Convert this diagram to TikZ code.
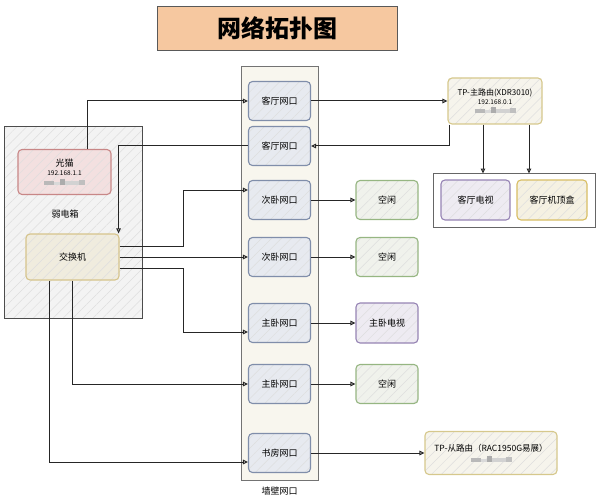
\documentclass[tikz,border=0pt]{standalone}
\usepackage{fontspec}
\setmainfont{Noto Sans CJK SC}
\usetikzlibrary{arrows.meta, positioning, calc, patterns.meta}
\definecolor{titlePeach}{RGB}{246,200,160}
\definecolor{wallCream}{RGB}{248,246,238}
\definecolor{portFill}{RGB}{231,234,240}
\definecolor{portLine}{RGB}{128,142,170}
\definecolor{idleFill}{RGB}{240,242,236}
\definecolor{idleLine}{RGB}{150,182,130}
\definecolor{tvFill}{RGB}{238,235,242}
\definecolor{tvLine}{RGB}{150,132,180}
\definecolor{stbFill}{RGB}{245,241,226}
\definecolor{stbLine}{RGB}{216,190,100}
\definecolor{routerFill}{RGB}{246,244,236}
\definecolor{routerLine}{RGB}{214,200,140}
\definecolor{modemFill}{RGB}{243,224,224}
\definecolor{modemLine}{RGB}{200,135,135}
\definecolor{switchFill}{RGB}{240,236,222}
\definecolor{switchLine}{RGB}{214,196,140}
\definecolor{boxFill}{RGB}{243,243,243}

\newcommand{\masked}{{\color{gray!55}\rule{10pt}{4pt}}{\color{gray!30}\rule{6pt}{3pt}}{\color{gray!65}\rule{5pt}{6pt}}{\color{gray!35}\rule{14pt}{4pt}}{\color{gray!50}\rule{6pt}{5pt}}}

\tikzset{
  hatch/.style={preaction={fill=#1}, pattern={Lines[angle=45, distance=7pt, line width=0.5pt]}, pattern color=black!13},
  card/.style={rounded corners=4pt, line width=1.1pt, align=center, font=\fontsize{9}{11}\selectfont},
  port/.style={card, hatch=portFill, draw=portLine, minimum width=62pt, minimum height=39pt},
  idle/.style={card, hatch=idleFill, draw=idleLine, minimum width=62pt, minimum height=39pt},
  tvbox/.style={card, hatch=tvFill, draw=tvLine, minimum height=40pt},
  link/.style={draw=black!85, line width=1pt, -{Triangle[open, length=5pt, width=4.5pt]}}
}

\begin{document}
\begin{tikzpicture}[x=1pt, y=-1pt]
  \useasboundingbox (0,0) rectangle (597,500);

  \node[fill=titlePeach, draw=black!65, line width=0.8pt, minimum width=240pt, minimum height=44pt, font=\fontsize{24}{28}\selectfont\bfseries] (title) at (277,28) {网络拓扑图};

  \node[fill=wallCream, draw=black!55, line width=0.8pt, minimum width=77pt, minimum height=414pt] (wall) at (279.5,273) {};
  \node[below=3pt of wall, font=\fontsize{9}{11}\selectfont] (walllbl) {墙壁网口};

  \node[hatch=boxFill, draw=black!70, line width=1pt, minimum width=138pt, minimum height=192pt] (box) at (73,222.5) {};
  \node[font=\fontsize{9}{11}\selectfont] (boxlbl) at (65,214) {弱电箱};

  \node[card, hatch=modemFill, draw=modemLine, minimum width=93pt, minimum height=45pt] (modem) at (64.5,172) {光猫\\[-2pt]{\fontsize{6.5}{8}\selectfont 192.168.1.1}\\[-1pt]\masked};
  \node[card, hatch=switchFill, draw=switchLine, minimum width=93pt, minimum height=46pt] (sw) at (72.5,257) {交换机};

  \node[port] (p1) at (279.5,101) {客厅网口};
  \node[port] (p2) at (279.5,146) {客厅网口};
  \node[port] (p3) at (279.5,200) {次卧网口};
  \node[port] (p4) at (279.5,257) {次卧网口};
  \node[port] (p5) at (279.5,323) {主卧网口};
  \node[port] (p6) at (279.5,384) {主卧网口};
  \node[port] (p7) at (279.5,453) {书房网口};

  \node[idle] (idle1) at (387,200) {空闲};
  \node[idle] (idle2) at (387,257) {空闲};
  \node[tvbox, minimum width=62pt] (mtv) at (387,323) {主卧电视};
  \node[idle] (idle3) at (387,384) {空闲};

  \node[card, hatch=routerFill, draw=routerLine, minimum width=94pt, minimum height=46pt, font=\fontsize{8}{10}\selectfont] (tpmain) at (495,101) {TP-主路由(XDR3010)\\[-1pt]{\fontsize{6.5}{8}\selectfont 192.168.0.1}\\[-1pt]\masked};
  \node[card, hatch=routerFill, draw=routerLine, minimum width=132pt, minimum height=43pt, font=\fontsize{8.5}{10}\selectfont] (tpsub) at (491,453) {TP-从路由（RAC1950G易展）\\[0pt]\masked};

  \node[fill=white, draw=black!60, line width=0.8pt, minimum width=162pt, minimum height=54pt] (livbox) at (514,200) {};
  \node[tvbox, minimum width=69pt] (ltv) at (475.5,200) {客厅电视};
  \node[card, hatch=stbFill, draw=stbLine, minimum width=70pt, minimum height=40pt] (stb) at (552,200) {客厅机顶盒};

  \draw[link] ([xshift=22.5pt]modem.north) |- (p1.west);
  \draw[link] (p1.east) -- (tpmain.west);
  \draw[link] ([xshift=-46pt]tpmain.south) |- (p2.east);
  \draw[link] (p2.west) -| ([xshift=-1pt]sw.north east);
  \draw[link] ([yshift=11pt]sw.east) -- ++(64,0) |- ([yshift=10pt]p3.west);
  \draw[link] (sw.east) -- (p4.west);
  \draw[link] ([yshift=-11pt]sw.east) -- ++(64,0) |- ([yshift=-9pt]p5.west);
  \draw[link] (sw.south) |- (p6.west);
  \draw[link] ([xshift=-23.5pt]sw.south) |- ([yshift=-9pt]p7.west);

  \draw[link] (p3.east) -- (idle1.west);
  \draw[link] (p4.east) -- (idle2.west);
  \draw[link] (p5.east) -- (mtv.west);
  \draw[link] (p6.east) -- (idle3.west);
  \draw[link] (p7.east) -- (tpsub.west);

  \draw[link] ([xshift=-12pt]tpmain.south) -- ++(0,49);
  \draw[link] ([xshift=34pt]tpmain.south) -- ++(0,49);
\end{tikzpicture}
\end{document}
